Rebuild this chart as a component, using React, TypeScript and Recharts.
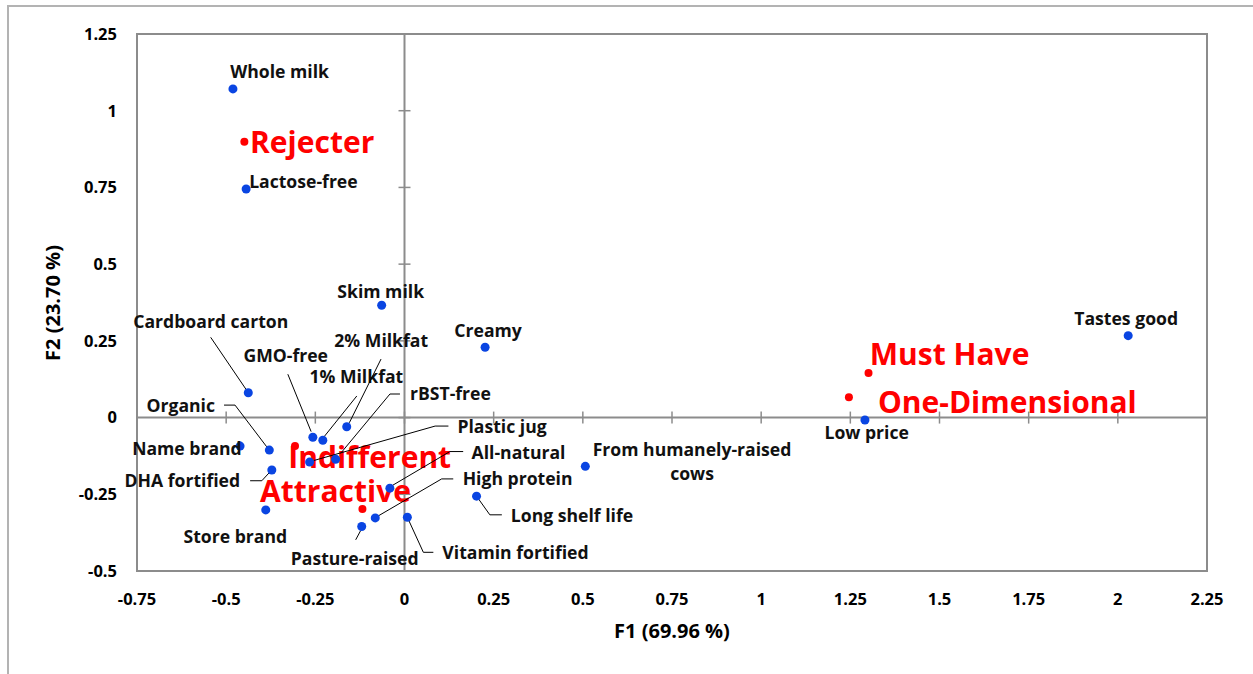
import React from 'react';
import { ScatterChart, Scatter, XAxis, YAxis, ReferenceLine, ReferenceArea, ReferenceDot } from 'recharts';

// attribute coordinates on the two factors
const attributes = [
  'Whole milk', 'Lactose-free', 'Skim milk', 'Creamy', 'Tastes good', 'Low price',
  'From humanely-raised cows', 'Long shelf life', 'Vitamin fortified', 'Cardboard carton',
  'Organic', 'Name brand', 'DHA fortified', 'Store brand', 'GMO-free', '1% Milkfat',
  '2% Milkfat', 'Plastic jug', 'rBST-free', 'All-natural', 'High protein', 'Pasture-raised',
];
const attrF1 = [
  -0.481, -0.444, -0.064, 0.226, 2.029, 1.291,
  0.507, 0.202, 0.008, -0.438,
  -0.379, -0.461, -0.372, -0.389, -0.257, -0.229,
  -0.162, -0.266, -0.193, -0.041, -0.082, -0.12,
];
const attrF2 = [
  1.071, 0.745, 0.366, 0.229, 0.267, -0.008,
  -0.159, -0.256, -0.325, 0.081,
  -0.106, -0.093, -0.171, -0.301, -0.064, -0.074,
  -0.03, -0.145, -0.136, -0.23, -0.327, -0.355,
];

// Kano categories
const categories = ['Rejecter', 'Must Have', 'One-Dimensional', 'Indifferent', 'Attractive'];
const catF1 = [-0.449, 1.301, 1.246, -0.307, -0.118];
const catF2 = [0.899, 0.145, 0.066, -0.093, -0.298];

const xTicks = [-0.75, -0.5, -0.25, 0, 0.25, 0.5, 0.75, 1, 1.25, 1.5, 1.75, 2, 2.25];
const yTicks = [-0.5, -0.25, 0, 0.25, 0.5, 0.75, 1, 1.25];

const attrData = attributes.map((name, i) => ({ name, x: attrF1[i], y: attrF2[i] }));
const catData = categories.map((name, i) => ({ name, x: catF1[i], y: catF2[i] }));

const FONT = '"Open Sans", "Noto Sans", sans-serif';
const BLUE = '#0a45e2';
const RED = '#ff0000';
const AXIS = '#8c8c8c';

type Layout = {
  dx: number;
  dy: number;
  anchor?: 'start' | 'middle' | 'end';
  lines?: string[];
  leader?: number[][];
};

// label placement relative to each point, in pixels
const attrLabels: Record<string, Layout> = {
  'Whole milk': { dx: -2.7, dy: -10.7 },
  'Lactose-free': { dx: 3, dy: -1.3 },
  'Skim milk': { dx: -1, dy: -7, anchor: 'middle' },
  'Creamy': { dx: 3, dy: -10.6, anchor: 'middle' },
  'Tastes good': { dx: -2, dy: -10.7, anchor: 'middle' },
  'Low price': { dx: 1.7, dy: 19.3, anchor: 'middle' },
  'From humanely-raised cows': { dx: 106.7, dy: -10.3, anchor: 'middle', lines: ['From humanely-raised', 'cows'] },
  'Long shelf life': { dx: 34.3, dy: 25.4, leader: [[0, 0], [13.3, 18.7], [25.3, 18.7]] },
  'Vitamin fortified': { dx: 35, dy: 41.7, leader: [[0, 0], [16, 35], [26, 35]] },
  'Cardboard carton': { dx: -115, dy: -64.4, leader: [[-37.6, -55.4], [-2, -3]] },
  'GMO-free': { dx: -69.4, dy: -75.6, leader: [[-25, -63], [-1.7, -5.6]] },
  '2% Milkfat': { dx: -12.4, dy: -80, leader: [[34.3, -67.7], [2.6, -4]] },
  '1% Milkfat': { dx: -13.4, dy: -57, leader: [[34, -44.3], [1.3, -3.6]] },
  'rBST-free': { dx: 74.3, dy: -59.3, leader: [[64.3, -65.3], [54.3, -65.3], [5, -6]] },
  'Plastic jug': { dx: 147.8, dy: -29.3, leader: [[138.8, -36], [125.5, -36], [4, -1.5]] },
  'All-natural': { dx: 81.7, dy: -29.3, leader: [[73.3, -36.6], [60, -36.6], [3, -3]] },
  'High protein': { dx: 87.4, dy: -33, leader: [[78, -39], [66.4, -39], [3, -2]] },
  'Pasture-raised': { dx: -7, dy: 38.3, anchor: 'middle', leader: [[-1, 4], [-6, 13.3]] },
  'Organic': { dx: -54.3, dy: -38.3, anchor: 'end', leader: [[-45.3, -45], [-34.3, -45], [-2.6, -3.3]] },
  'Name brand': { dx: 1.7, dy: 9, anchor: 'end' },
  'DHA fortified': { dx: -31.7, dy: 16.7, anchor: 'end', leader: [[-21.7, 10.7], [-10, 10.7], [-1.7, 1.7]] },
  'Store brand': { dx: -30.4, dy: 33.3, anchor: 'middle' },
};

const catLabels: Record<string, Layout> = {
  'Rejecter': { dx: 5.7, dy: 11.6 },
  'Must Have': { dx: 1.3, dy: -8 },
  'One-Dimensional': { dx: 29, dy: 15.4 },
  'Indifferent': { dx: -6.7, dy: 22.3 },
  'Attractive': { dx: -102.3, dy: -7.3 },
};

const AttrPoint = (props: any) => {
  const { cx, cy, payload } = props;
  const l = attrLabels[payload.name];
  const lines = l.lines || [payload.name];
  return (
    <g>
      {l.leader && (
        <polyline
          points={l.leader.map(p => `${cx + p[0]},${cy + p[1]}`).join(' ')}
          fill="none"
          stroke="#000"
          strokeWidth={1}
        />
      )}
      <circle cx={cx} cy={cy} r={4.5} fill={BLUE} />
      {lines.map((t, i) => (
        <text
          key={i}
          x={cx + l.dx}
          y={cy + l.dy + i * 24}
          textAnchor={l.anchor || 'start'}
          fontFamily={FONT}
          fontWeight={700}
          fontSize={17.6}
          fill="#111"
        >
          {t}
        </text>
      ))}
    </g>
  );
};

const CatPoint = (props: any) => {
  const { cx, cy, payload } = props;
  const l = catLabels[payload.name];
  return (
    <g>
      <circle cx={cx} cy={cy} r={4} fill={RED} />
      <text
        x={cx + l.dx}
        y={cy + l.dy}
        textAnchor={l.anchor || 'start'}
        fontFamily={FONT}
        fontWeight={700}
        fontSize={30}
        fill={RED}
      >
        {payload.name}
      </text>
    </g>
  );
};

const tickStyle = { fill: '#000', fontFamily: FONT, fontWeight: 700, fontSize: 16.5 };

export default function App() {
  return (
    <div style={{ position: 'absolute', left: 0, top: 0, width: 1253, height: 674, overflow: 'hidden', background: '#fff' }}>
      <div
        style={{
          position: 'absolute',
          left: 7,
          top: 5,
          width: 1300,
          height: 700,
          borderLeft: '2px solid #b3b3b3',
          borderTop: '2px solid #b3b3b3',
        }}
      />
      <ScatterChart
        width={1253}
        height={674}
        margin={{ top: 34, right: 46, bottom: 0, left: 0 }}
        style={{ position: 'absolute', left: 0, top: 0 }}
      >
        <XAxis
          type="number"
          dataKey="x"
          domain={[-0.75, 2.25]}
          ticks={xTicks}
          height={103}
          axisLine={false}
          tickLine={false}
          tickSize={0}
          tickMargin={22}
          tick={tickStyle}
          interval={0}
        />
        <YAxis
          type="number"
          dataKey="y"
          domain={[-0.5, 1.25]}
          ticks={yTicks}
          width={137}
          axisLine={false}
          tickLine={false}
          tickSize={0}
          tickMargin={20}
          tick={tickStyle}
          interval={0}
        />
        <ReferenceArea x1={-0.75} x2={2.25} y1={-0.5} y2={1.25} fill="none" stroke={AXIS} strokeWidth={2} />
        <ReferenceLine x={0} stroke={AXIS} strokeWidth={2} />
        <ReferenceLine y={0} stroke={AXIS} strokeWidth={2} />
        {xTicks.map(t => (
          <ReferenceDot
            key={'xt' + t}
            x={t}
            y={0}
            shape={(p: any) => <line x1={p.cx} x2={p.cx} y1={p.cy - 6} y2={p.cy + 6} stroke={AXIS} strokeWidth={1.5} />}
          />
        ))}
        {yTicks.map(t => (
          <ReferenceDot
            key={'yt' + t}
            x={0}
            y={t}
            shape={(p: any) => <line x1={p.cx - 6} x2={p.cx + 6} y1={p.cy} y2={p.cy} stroke={AXIS} strokeWidth={1.5} />}
          />
        ))}
        <Scatter data={catData} fill={RED} shape={(p: any) => <CatPoint {...p} />} isAnimationActive={false} />
        <Scatter data={attrData} fill={BLUE} shape={(p: any) => <AttrPoint {...p} />} isAnimationActive={false} />
      </ScatterChart>
      <svg width={1253} height={674} style={{ position: 'absolute', left: 0, top: 0, pointerEvents: 'none' }}>
        <text x={672} y={638} textAnchor="middle" fontFamily={FONT} fontWeight={700} fontSize={20} fill="#000">
          F1 (69.96 %)
        </text>
        <text
          transform="translate(60, 303) rotate(-90)"
          textAnchor="middle"
          fontFamily={FONT}
          fontWeight={700}
          fontSize={20}
          fill="#000"
        >
          F2 (23.70 %)
        </text>
      </svg>
    </div>
  );
}
